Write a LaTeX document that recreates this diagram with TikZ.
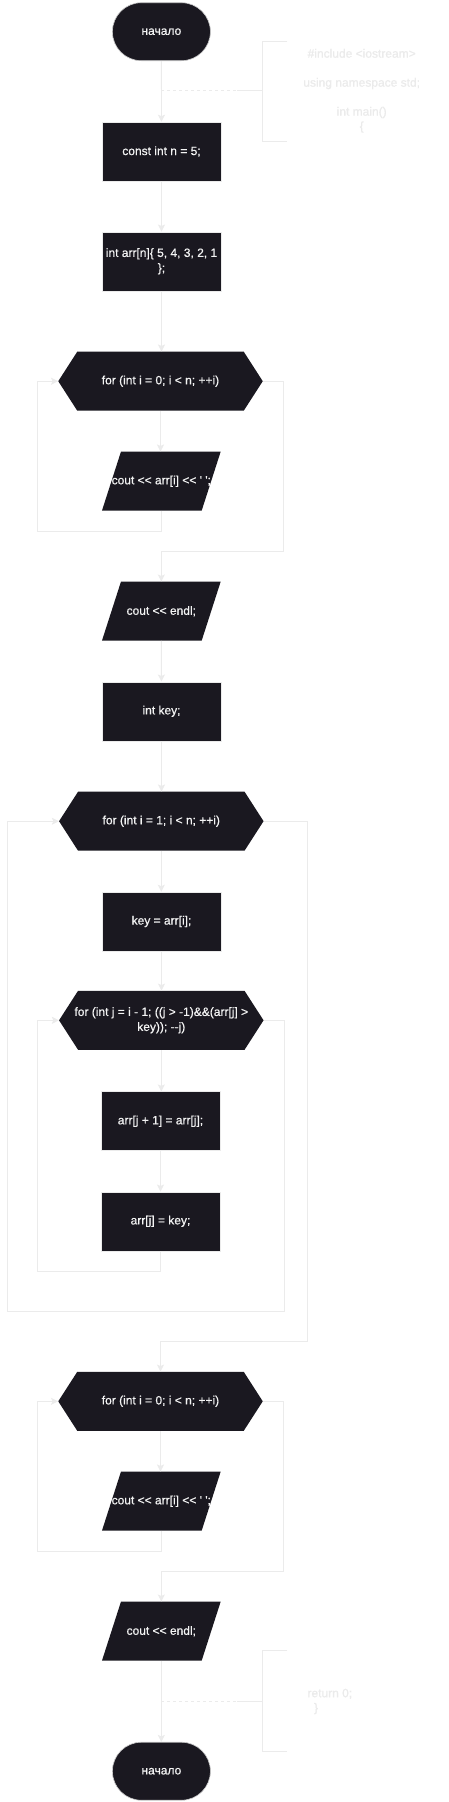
\documentclass[tikz,border=0pt]{standalone}
\usepackage{fontspec}
\newfontfamily\lsans{Liberation Sans}[FakeBold=0.6]
\usetikzlibrary{arrows.meta}
\definecolor{boxc}{HTML}{1A1820}
\definecolor{linec}{HTML}{EBEBEB}
\definecolor{txtc}{HTML}{F4F4F4}
\definecolor{cmtc}{HTML}{EBEBEB}
\begin{document}
\begin{tikzpicture}[x=1pt,y=-1pt,
  font=\lsans\fontsize{12pt}{15pt}\selectfont,
  flow/.style={draw=linec, line width=0.9pt},
  arr/.style={flow, -{Stealth[length=7pt,width=7pt,inset=1.5pt]}},
  dashlink/.style={draw=linec, line width=0.9pt, dash pattern=on 3pt off 3pt},
  base/.style={inner sep=0pt, text=txtc, align=center},
  procbox/.style={base, rectangle, fill=boxc, draw=linec, line width=0.5pt, minimum width=119pt, minimum height=59pt},
  termbox/.style={base, rectangle, rounded corners=29pt, fill=boxc, draw=linec!70!gray, line width=0.6pt, minimum width=98pt, minimum height=58pt},
  hexbox/.style={base, rectangle, minimum width=204.5pt, minimum height=59pt, path picture={
     \fill[boxc] ([xshift=19pt]path picture bounding box.north west) -- ([xshift=-19pt]path picture bounding box.north east) -- (path picture bounding box.east) -- ([xshift=-19pt]path picture bounding box.south east) -- ([xshift=19pt]path picture bounding box.south west) -- (path picture bounding box.west) -- cycle;}},
  iobox/.style={base, rectangle, minimum width=118.7pt, minimum height=59pt, path picture={
     \fill[boxc] ([xshift=19pt]path picture bounding box.north west) -- (path picture bounding box.north east) -- ([xshift=-19pt]path picture bounding box.south east) -- (path picture bounding box.south west) -- cycle;}},
  cmt/.style={inner sep=0pt, text=cmtc, font=\lsans\fontsize{12pt}{14.5pt}\selectfont}
]
\useasboundingbox[fill=white] (0,0) rectangle (448,1802);

% nodes
\node[termbox] (start) at (161.4,31.7) {начало};
\node[procbox] (c1) at (161.5,151.5) {const int n = 5;};
\node[procbox] (c2) at (161.5,261.3) {int arr[n]\{ 5, 4, 3, 2, 1\\\};};
\node[hexbox] (h1) at (160.5,381.2) {for (int i = 0; i < n; ++i)};
\node[iobox] (p1) at (161.3,481.2) {cout << arr[i] << ' ';};
\node[iobox] (p2) at (161.3,611.2) {cout << endl;};
\node[procbox] (c3) at (161.5,711.3) {int key;};
\node[hexbox] (h2) at (161.3,821.2) {for (int i = 1; i < n; ++i)};
\node[procbox] (c4) at (161.5,921.5) {key = arr[i];};
\node[hexbox] (h3) at (161.3,1020.3) {for (int j = i - 1; ((j > -1)\&\&(arr[j] >\\key)); -{}-j)};
\node[procbox] (c5) at (160.5,1121.2) {arr[j + 1] = arr[j];};
\node[procbox] (c6) at (160.5,1221.3) {arr[j] = key;};
\node[hexbox] (h4) at (160.5,1401.3) {for (int i = 0; i < n; ++i)};
\node[iobox] (p3) at (161.3,1501.2) {cout << arr[i] << ' ';};
\node[iobox] (p4) at (161.3,1631.2) {cout << endl;};
\node[termbox] (end) at (161.4,1771.2) {начало};

% waypoints
\coordinate (l1) at (37.3,531);
\coordinate (e1) at (283.3,551);
\coordinate (l3) at (37.3,1271);
\coordinate (e3) at (284.3,1311);
\coordinate (l2) at (7.3,1311);
\coordinate (e2) at (307.3,1341);
\coordinate (l4) at (37.3,1551);
\coordinate (e4) at (283.3,1571);

% connectors
\draw[arr] (start) -- (c1);
\draw[arr] (c1) -- (c2);
\draw[arr] (c2.south) -- (c2.south |- h1.north);
\draw[arr] (h1.south) -- (h1.south |- p1.north);
\draw[arr] (p1.south) |- (l1) |- (h1.west);
\draw[arr] (h1.east) -| (e1) -| (p2.north);
\draw[arr] (p2) -- (c3);
\draw[arr] (c3.south) -- (c3.south |- h2.north);
\draw[arr] (h2.south) -- (h2.south |- c4.north);
\draw[arr] (c4.south) -- (c4.south |- h3.north);
\draw[arr] (h3.south) -- (h3.south |- c5.north);
\draw[arr] (c5) -- (c6);
\draw[arr] (c6.south) |- (l3) |- (h3.west);
\draw[arr] (h3.east) -| (e3) -- (l2) |- (h2.west);
\draw[arr] (h2.east) -| (e2) -| (h4.north);
\draw[arr] (h4.south) -- (h4.south |- p3.north);
\draw[arr] (p3.south) |- (l4) |- (h4.west);
\draw[arr] (h4.east) -| (e4) -| (p4.north);
\draw[arr] (p4.south) -- (p4.south |- end.north);

% comment 1
\coordinate (k1a) at (161.4,90.7);
\coordinate (k1b) at (237,90.7);
\coordinate (k1c) at (262,90.7);
\draw[dashlink] (k1a) -- (k1b);
\draw[flow] (k1b) -- (k1c);
\draw[flow] (287,41) -- (262,41) -- (262,141.7) -- (287,141.7);
\node[cmt, align=center] (cm1) at (361.7,90.8) {\#include <iostream>\\\mbox{}\\using namespace std;\\\mbox{}\\int main()\\\{};

% comment 2
\coordinate (k2a) at (161.4,1701.3);
\coordinate (k2b) at (237,1701.3);
\coordinate (k2c) at (262,1701.3);
\draw[dashlink] (k2a) -- (k2b);
\draw[flow] (k2b) -- (k2c);
\draw[flow] (287,1650.7) -- (262,1650.7) -- (262,1751.3) -- (287,1751.3);
\node[cmt, align=left, anchor=west] (cm2) at (307.3,1701.5) {return 0;\\\hspace*{6.5pt}\}};
\end{tikzpicture}
\end{document}
